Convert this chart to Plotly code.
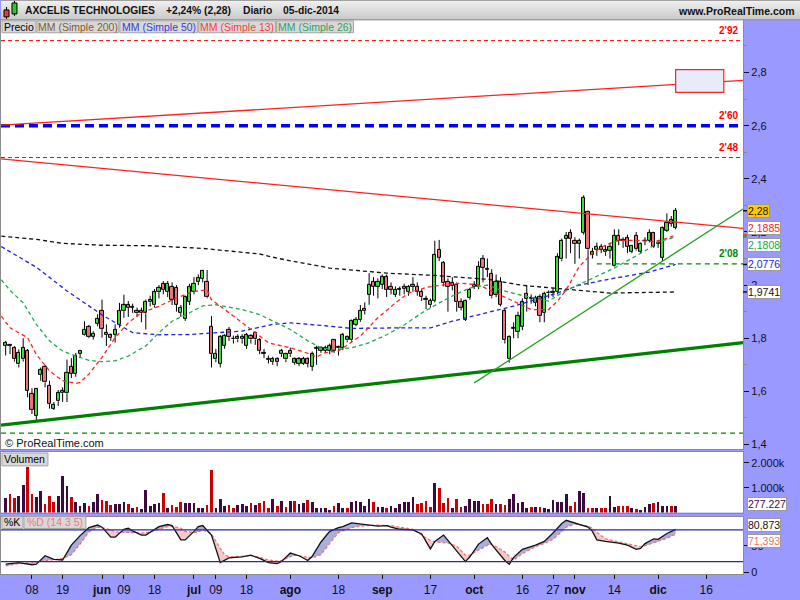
import numpy as np
import pandas as pd
import plotly.graph_objects as go

# ---------------------------------------------------------------- data
HOLIDAYS = ["2014-05-26", "2014-07-04", "2014-09-01", "2014-11-27", "2014-12-25"]

OPEN = [1.773, 1.773, 1.765, 1.702, 1.721, 1.752, 1.590, 1.509, 1.662, 1.692,
        1.621, 1.536, 1.563, 1.593, 1.593, 1.692, 1.667, 1.742, 1.812, 1.842,
        1.806, 1.854, 1.902, 1.812, 1.812, 1.812, 1.852, 1.902, 1.924, 1.914,
        1.902, 1.894, 1.894, 1.935, 1.924, 1.975, 2.004, 1.974, 1.995, 1.990,
        1.895, 1.874, 1.937, 1.974, 2.014, 2.024, 2.014, 1.842, 1.721, 1.705,
        1.771, 1.833, 1.797, 1.796, 1.796, 1.771, 1.808, 1.820, 1.792, 1.745,
        1.722, 1.711, 1.721, 1.740, 1.721, 1.752, 1.708, 1.705, 1.705, 1.721,
        1.692, 1.761, 1.754, 1.754, 1.754, 1.792, 1.762, 1.764, 1.792, 1.792,
        1.852, 1.870, 1.912, 1.964, 2.014, 1.995, 2.001, 2.032, 1.995, 1.964,
        1.983, 1.995, 1.974, 1.995, 1.995, 1.974, 1.946, 1.924, 1.941, 2.132,
        2.085, 2.014, 2.010, 2.001, 1.936, 1.870, 1.952, 1.994, 1.995, 2.097,
        2.062, 2.042, 1.964, 2.014, 1.902, 1.721, 1.836, 1.824, 1.842, 1.966,
        1.950, 1.933, 1.954, 1.895, 1.969, 1.970, 1.973, 2.097, 2.174, 2.198,
        2.168, 2.156, 2.197, 2.275, 2.113, 2.132, 2.145, 2.124, 2.130, 2.074,
        2.186, 2.170, 2.176, 2.126, 2.186, 2.126, 2.166, 2.168, 2.198, 2.155,
        2.103, 2.204, 2.244, 2.216]
HIGH = [1.790, 1.778, 1.770, 1.758, 1.800, 1.760, 1.612, 1.612, 1.690, 1.700,
        1.640, 1.560, 1.605, 1.615, 1.720, 1.725, 1.745, 1.755, 1.864, 1.850,
        1.826, 1.890, 1.945, 1.852, 1.818, 1.852, 1.933, 1.964, 1.940, 1.930,
        1.915, 1.915, 1.945, 1.960, 1.985, 2.000, 2.015, 2.015, 2.010, 2.000,
        1.925, 1.960, 2.005, 2.030, 2.040, 2.057, 2.057, 1.883, 1.760, 1.812,
        1.815, 1.842, 1.810, 1.815, 1.815, 1.820, 1.815, 1.825, 1.800, 1.760,
        1.735, 1.730, 1.728, 1.760, 1.745, 1.765, 1.728, 1.730, 1.730, 1.728,
        1.750, 1.772, 1.770, 1.772, 1.780, 1.796, 1.772, 1.820, 1.810, 1.870,
        1.880, 1.925, 1.935, 2.045, 2.030, 2.025, 2.040, 2.040, 2.010, 1.995,
        1.995, 2.005, 2.000, 2.030, 2.010, 1.985, 1.960, 1.950, 2.167, 2.170,
        2.090, 2.025, 2.030, 2.010, 1.950, 1.945, 1.990, 2.015, 2.090, 2.113,
        2.100, 2.060, 2.040, 2.030, 1.910, 1.810, 1.860, 1.900, 1.950, 2.000,
        1.965, 1.960, 1.965, 1.975, 1.980, 1.990, 2.120, 2.175, 2.200, 2.210,
        2.180, 2.175, 2.338, 2.280, 2.140, 2.160, 2.155, 2.150, 2.160, 2.210,
        2.210, 2.180, 2.190, 2.150, 2.200, 2.160, 2.180, 2.210, 2.200, 2.170,
        2.220, 2.270, 2.260, 2.290]
LOW = [1.735, 1.740, 1.712, 1.690, 1.712, 1.578, 1.515, 1.490, 1.640, 1.615,
       1.535, 1.530, 1.545, 1.560, 1.560, 1.650, 1.655, 1.728, 1.810, 1.800,
       1.795, 1.845, 1.802, 1.771, 1.790, 1.784, 1.840, 1.877, 1.880, 1.895,
       1.880, 1.860, 1.833, 1.920, 1.915, 1.950, 1.965, 1.955, 1.925, 1.900,
       1.880, 1.865, 1.925, 1.965, 2.000, 2.010, 1.950, 1.690, 1.710, 1.690,
       1.760, 1.790, 1.780, 1.785, 1.780, 1.760, 1.780, 1.775, 1.740, 1.725,
       1.705, 1.700, 1.695, 1.730, 1.710, 1.730, 1.700, 1.695, 1.700, 1.690,
       1.677, 1.700, 1.745, 1.745, 1.740, 1.745, 1.735, 1.755, 1.785, 1.785,
       1.845, 1.862, 1.890, 1.926, 1.960, 1.950, 1.985, 1.955, 1.965, 1.955,
       1.960, 1.965, 1.960, 1.975, 1.960, 1.940, 1.910, 1.915, 1.935, 2.090,
       1.995, 1.900, 1.980, 1.900, 1.905, 1.865, 1.945, 1.985, 1.985, 2.010,
       2.030, 1.950, 1.955, 1.920, 1.780, 1.708, 1.800, 1.800, 1.830, 1.900,
       1.930, 1.920, 1.860, 1.860, 1.950, 1.955, 1.965, 2.090, 2.100, 2.120,
       2.080, 2.100, 2.190, 2.000, 2.100, 2.110, 2.120, 2.110, 2.100, 2.070,
       2.150, 2.140, 2.120, 2.120, 2.130, 2.120, 2.150, 2.160, 2.140, 2.140,
       2.090, 2.200, 2.220, 2.210]
CLOSE = [1.783, 1.771, 1.721, 1.746, 1.765, 1.603, 1.530, 1.609, 1.680, 1.634,
         1.553, 1.550, 1.593, 1.603, 1.671, 1.667, 1.733, 1.752, 1.833, 1.804,
         1.818, 1.874, 1.836, 1.821, 1.802, 1.833, 1.902, 1.924, 1.914, 1.916,
         1.894, 1.902, 1.937, 1.945, 1.973, 1.990, 1.983, 2.004, 1.945, 1.927,
         1.914, 1.954, 1.995, 2.004, 2.026, 2.054, 1.954, 1.740, 1.742, 1.804,
         1.808, 1.804, 1.796, 1.804, 1.805, 1.812, 1.796, 1.796, 1.752, 1.742,
         1.720, 1.721, 1.712, 1.752, 1.740, 1.740, 1.721, 1.721, 1.722, 1.705,
         1.742, 1.762, 1.762, 1.763, 1.771, 1.752, 1.767, 1.812, 1.804, 1.864,
         1.870, 1.902, 1.902, 2.001, 1.995, 2.014, 2.032, 1.983, 1.983, 1.983,
         1.984, 1.985, 1.995, 2.001, 1.974, 1.954, 1.944, 1.941, 2.113, 2.103,
         2.007, 1.995, 1.998, 1.936, 1.914, 1.941, 1.983, 2.001, 2.070, 2.066,
         2.058, 1.958, 2.014, 1.926, 1.793, 1.804, 1.840, 1.883, 1.935, 1.949,
         1.948, 1.951, 1.883, 1.966, 1.970, 1.975, 2.105, 2.167, 2.186, 2.174,
         2.156, 2.168, 2.329, 2.135, 2.126, 2.145, 2.132, 2.131, 2.145, 2.186,
         2.168, 2.167, 2.145, 2.147, 2.135, 2.157, 2.165, 2.198, 2.145, 2.157,
         2.216, 2.236, 2.230, 2.280]
# volume in thousands of shares
VOLUME_K = [600, 750, 570, 680, 1130, 1840, 760, 610, 880, 330,
            680, 410, 680, 1480, 1080, 610, 440, 280, 400, 250,
            410, 750, 510, 480, 310, 330, 330, 440, 360, 170,
            240, 130, 920, 280, 350, 370, 800, 170, 310, 230,
            440, 400, 370, 370, 170, 200, 310, 1710, 200, 530,
            280, 310, 200, 310, 330, 270, 370, 310, 400, 470,
            200, 550, 250, 470, 210, 470, 480, 330, 370, 510,
            440, 200, 200, 200, 110, 280, 370, 200, 200, 440,
            480, 440, 280, 530, 440, 240, 240, 200, 280, 200,
            330, 410, 440, 640, 330, 370, 480, 240, 1200, 1000,
            370, 600, 200, 530, 240, 280, 530, 480, 480, 330,
            330, 560, 330, 350, 310, 530, 760, 370, 410, 200,
            240, 240, 210, 200, 130, 510, 440, 440, 760, 280,
            440, 880, 800, 200, 200, 170, 170, 170, 680, 240,
            280, 280, 280, 200, 130, 110, 240, 330, 370, 440,
            280, 280, 280, 277.227]

# moving averages (session number, value)
MA13_DAY = [-1, 1, 5, 7, 10, 13, 16, 17, 19, 22, 25, 28, 31, 35, 39, 43, 46, 47, 51, 54,
            57, 60, 62, 65, 68, 71, 73, 76, 81, 85, 89, 92, 96, 100, 104, 108, 112, 116, 120, 124,
            126, 128, 131, 134, 137, 140, 144, 148, 151, 153]
MA13_VAL = [1.883, 1.839, 1.802, 1.739, 1.677, 1.640, 1.630, 1.634, 1.665, 1.728,
            1.802, 1.858, 1.896, 1.920, 1.952, 1.976, 1.982, 1.945, 1.896, 1.858,
            1.821, 1.783, 1.775, 1.764, 1.749, 1.730, 1.746, 1.752, 1.808, 1.877,
            1.933, 1.970, 1.991, 2.001, 2.007, 2.001, 1.970, 1.939, 1.908, 1.908,
            1.939, 1.982, 2.070, 2.120, 2.151, 2.168, 2.168, 2.163, 2.176, 2.1885]
MA26_DAY = [-1, 1, 4, 7, 10, 13, 16, 19, 22, 25, 28, 32, 35, 38, 42, 45, 48, 50, 54, 58,
            61, 65, 69, 72, 75, 79, 83, 87, 91, 95, 99, 102, 106, 110, 113, 118, 124, 127, 130, 134,
            139, 143, 147, 149, 153]
MA26_VAL = [2.020, 1.980, 1.933, 1.852, 1.790, 1.752, 1.733, 1.717, 1.712, 1.715,
            1.733, 1.771, 1.821, 1.864, 1.896, 1.922, 1.926, 1.920, 1.908, 1.889,
            1.864, 1.833, 1.790, 1.764, 1.757, 1.764, 1.783, 1.813, 1.850, 1.895,
            1.933, 1.959, 1.989, 2.000, 1.982, 1.961, 1.940, 1.970, 1.995, 2.026,
            2.064, 2.101, 2.138, 2.163, 2.1808]
MA50_DAY = [-1, 7, 14, 22, 29, 35, 42, 54, 61, 65, 73, 79, 90, 97, 102, 110, 116, 126, 131, 139,
            147, 153]
MA50_VAL = [2.145, 2.067, 1.978, 1.888, 1.821, 1.813, 1.814, 1.827, 1.852, 1.858,
            1.847, 1.837, 1.839, 1.839, 1.864, 1.895, 1.921, 1.970, 2.000, 2.026,
            2.049, 2.0776]
MA200_DAY = [-1, 7, 13, 22, 33, 45, 58, 62, 74, 87, 97, 110, 118, 127, 138, 153]
MA200_VAL = [2.184, 2.172, 2.157, 2.150, 2.148, 2.138, 2.117, 2.101, 2.064, 2.045,
             2.037, 2.022, 1.999, 1.985, 1.970, 1.9741]

# stochastic oscillator %K / %D (14 3 5)
STOCH_DAY = [0, 3, 6, 7, 9, 11, 13, 15, 17, 19, 21, 22, 24, 25, 27, 28, 29, 31, 32, 34,
             35, 37, 38, 40, 41, 43, 44, 45, 47, 49, 50, 51, 54, 56, 58, 60, 62, 63, 65, 66,
             67, 69, 70, 72, 74, 76, 77, 79, 81, 83, 85, 87, 88, 90, 93, 95, 97, 98, 100, 101,
             103, 105, 106, 108, 110, 111, 114, 115, 116, 118, 121, 123, 125, 127, 128, 130, 132, 133, 134, 135,
             137, 140, 142, 144, 145, 146, 148, 149, 151, 152, 153]
STOCH_K = [15, 18, 14, 15, 31, 24, 23, 51, 69, 84, 89, 85, 66, 66, 81, 83, 78, 70, 70, 81,
           86, 90, 88, 61, 61, 77, 86, 88, 70, 18, 22, 27, 29, 32, 26, 18, 16, 20, 36, 34,
           31, 22, 30, 57, 77, 84, 86, 93, 91, 89, 87, 88, 85, 81, 80, 72, 44, 58, 70, 60,
           41, 20, 29, 53, 65, 52, 22, 15, 28, 43, 51, 58, 74, 92, 98, 93, 88, 85, 77, 61,
           58, 55, 51, 43, 45, 54, 63, 62, 73, 77, 80.873]
STOCH_D = [12, 16, 18, 19, 22, 24, 26, 33, 53, 76, 85, 84, 80, 76, 75, 75, 74, 74, 74, 78,
           81, 86, 87, 83, 77, 75, 76, 80, 72, 45, 33, 29, 30, 31, 28, 23, 21, 22, 29, 32,
           31, 28, 27, 33, 55, 75, 78, 84, 87, 88, 89, 88, 88, 85, 81, 70, 60, 57, 56, 55,
           49, 32, 32, 42, 51, 53, 38, 30, 23, 35, 48, 54, 62, 77, 85, 91, 89, 87, 83, 75,
           63, 57, 53, 49, 48, 50, 55, 58, 64, 68, 71.393]

# horizontal price levels
LEVEL_PRICE = [2.92, 2.60, 2.48, 2.08, 1.443]
LEVEL_FROM = [None, None, None, "2014-11-10", None]

# trend lines: two anchor points each
TREND_START_DATE = ["2014-04-30", "2014-04-30", "2014-04-30", "2014-10-01"]
TREND_START_PRICE = [2.603, 2.473, 1.475, 1.632]
TREND_END_DATE = ["2014-12-05", "2014-12-05", "2014-12-05", "2014-12-05"]
TREND_END_PRICE = [2.755, 2.237, 1.755, 2.122]
TREND_EXTEND_LEFT = [True, True, True, False]

# target box
BOX_DATE = ["2014-12-05", "2014-12-22"]
BOX_PRICE = [2.725, 2.811]

TICK_DATE = ["2014-05-08", "2014-05-19", "2014-06-02", "2014-06-09", "2014-06-18",
             "2014-07-01", "2014-07-09", "2014-07-18", "2014-08-01", "2014-08-18",
             "2014-09-02", "2014-09-17", "2014-10-01", "2014-10-16", "2014-10-27",
             "2014-11-03", "2014-11-14", "2014-12-01", "2014-12-16"]
TICK_TEXT = ["08", "19", "jun", "09", "18", "jul", "09", "18", "ago", "18",
             "sep", "17", "oct", "16", "27", "nov", "14", "dic", "16"]
MESES = ["ene", "feb", "mar", "abr", "may", "jun", "jul", "ago", "sep", "oct", "nov", "dic"]

# ---------------------------------------------------------------- geometry helpers
W, H = 800, 600
FONT = "Liberation Sans, Arial, sans-serif"


def fx(p):
    return p / W


def fy(p):
    return 1 - p / H


PLOT_RIGHT = 743
sessions = [d for d in pd.bdate_range("2014-04-30", "2014-12-31")
            if d.strftime("%Y-%m-%d") not in HOLIDAYS]
day_of = {d.strftime("%Y-%m-%d"): i for i, d in enumerate(sessions)}

XMIN, XMAX = -1.07, 168.4
PRICE_RANGE = [1.3832, 2.9981]
VOL_RANGE = [0, 2440]
STOCH_RANGE = [-3.75, 105.05]


def dec(v, nd):
    return f"{v:.{nd}f}".replace(".", ",")


def level_label(v):
    return f"{int(v)}'{int(round((v % 1) * 100)):02d}"


GREEN_BODY = "#41d841"
RED_BODY = "#ea7474"

fig = go.Figure()

# ---------------------------------------------------------------- price panel
o, h, l, c = map(np.array, (OPEN, HIGH, LOW, CLOSE))
days = np.arange(len(c))
b_lo, b_hi = np.minimum(o, c), np.maximum(o, c)
wx, wy = [], []
for i in days:
    wx += [i, i, None, i, i, None]
    wy += [h[i], b_hi[i], None, b_lo[i], l[i], None]
fig.add_trace(go.Scatter(x=wx, y=wy, mode="lines", line=dict(color="black", width=1),
                         hoverinfo="skip", xaxis="x", yaxis="y"))
fig.add_trace(go.Bar(x=days, y=np.maximum(b_hi - b_lo, 0.0025), base=b_lo, width=0.74,
                     marker=dict(color=np.where(c >= o, GREEN_BODY, RED_BODY).tolist(),
                                 line=dict(color="black", width=1)),
                     hoverinfo="skip", xaxis="x", yaxis="y"))

for dd, vv, col in [(MA200_DAY, MA200_VAL, "#111111"), (MA50_DAY, MA50_VAL, "#2222dd"),
                    (MA26_DAY, MA26_VAL, "#22aa55"), (MA13_DAY, MA13_VAL, "#ff2222")]:
    fig.add_trace(go.Scatter(x=dd, y=vv, mode="lines",
                             line=dict(color=col, width=1.3, dash="4px,3px"),
                             hoverinfo="skip", xaxis="x", yaxis="y"))

# ---------------------------------------------------------------- volume panel
prev = np.concatenate([[o[0]], c[:-1]])
vol_col = np.where(c < prev, "#cc0000", "#3c0a3c").tolist()
fig.add_trace(go.Bar(x=days, y=VOLUME_K, width=0.62, marker=dict(color=vol_col, line=dict(width=0)),
                     hoverinfo="skip", xaxis="x2", yaxis="y2"))

# ---------------------------------------------------------------- stochastic panel
sx, sk, sd = STOCH_DAY, STOCH_K, STOCH_D
pos_x, pos_y, neg_x, neg_y = [], [], [], []
for j in range(len(sx) - 1):
    x0, x1 = sx[j], sx[j + 1]
    d0, d1 = sk[j] - sd[j], sk[j + 1] - sd[j + 1]
    if d0 * d1 < 0:
        t = d0 / (d0 - d1)
        xm = x0 + t * (x1 - x0)
        ym = sk[j] + t * (sk[j + 1] - sk[j])
        parts = [(x0, xm, sk[j], ym, sd[j], ym, d0), (xm, x1, ym, sk[j + 1], ym, sd[j + 1], d1)]
    else:
        parts = [(x0, x1, sk[j], sk[j + 1], sd[j], sd[j + 1], d0 + d1)]
    for xa, xb, ka, kb, da, db, s in parts:
        xs = [xa, xb, xb, xa, xa, None]
        ys = [ka, kb, db, da, ka, None]
        if s >= 0:
            pos_x += xs
            pos_y += ys
        else:
            neg_x += xs
            neg_y += ys
fig.add_trace(go.Scatter(x=pos_x, y=pos_y, mode="lines", fill="toself", fillcolor="#aaaedf",
                         line=dict(width=0, color="rgba(0,0,0,0)"), hoverinfo="skip",
                         xaxis="x3", yaxis="y3"))
fig.add_trace(go.Scatter(x=neg_x, y=neg_y, mode="lines", fill="toself", fillcolor="#f6c8c8",
                         line=dict(width=0, color="rgba(0,0,0,0)"), hoverinfo="skip",
                         xaxis="x3", yaxis="y3"))
fig.add_trace(go.Scatter(x=sx, y=sd, mode="lines", line=dict(color="#f07070", width=1.2, dash="3px,2px"),
                         hoverinfo="skip", xaxis="x3", yaxis="y3"))
fig.add_trace(go.Scatter(x=sx, y=sk, mode="lines", line=dict(color="#111111", width=1.3),
                         hoverinfo="skip", xaxis="x3", yaxis="y3"))

# ---------------------------------------------------------------- shapes
shapes = []

# header bar with a soft vertical gradient
for k in range(10):
    g = int(240 - k * 4.2)
    shapes.append(dict(type="rect", xref="paper", yref="paper", x0=0, x1=1,
                       y0=fy(2 * k + 2), y1=fy(2 * k), fillcolor=f"rgb({g},{g},{g})",
                       line=dict(width=0), layer="above"))
shapes.append(dict(type="line", xref="paper", yref="paper", x0=0, x1=1, y0=fy(0.5), y1=fy(0.5),
                   line=dict(color="#a0a0a0", width=1)))
shapes.append(dict(type="line", xref="paper", yref="paper", x0=0, x1=1, y0=fy(20), y1=fy(20),
                   line=dict(color="#8c8c8c", width=1)))
# little candle logo
shapes += [
    dict(type="line", xref="paper", yref="paper", x0=fx(5.5), x1=fx(5.5), y0=fy(19), y1=fy(7),
         line=dict(color="black", width=1)),
    dict(type="rect", xref="paper", yref="paper", x0=fx(3), x1=fx(8), y0=fy(17), y1=fy(10),
         fillcolor="#e04040", line=dict(color="black", width=1)),
    dict(type="line", xref="paper", yref="paper", x0=fx(13.5), x1=fx(13.5), y0=fy(16), y1=fy(1),
         line=dict(color="black", width=1)),
    dict(type="rect", xref="paper", yref="paper", x0=fx(11), x1=fx(16), y0=fy(14), y1=fy(3),
         fillcolor="#30c830", line=dict(color="black", width=1)),
]

# horizontal levels
level_style = [dict(color="#ff0000", width=1, dash="4px,3px"),
               dict(color="#0000ff", width=3.5, dash="9px,5px"),
               dict(color="#ff0000", width=1, dash="4px,3px"),
               dict(color="#008800", width=1.2, dash="5px,4px"),
               dict(color="#008800", width=1.2, dash="5px,4px")]
for v, start, st in zip(LEVEL_PRICE, LEVEL_FROM, level_style):
    x0 = XMIN if start is None else day_of[start]
    shapes.append(dict(type="line", xref="x", yref="y", x0=x0, x1=XMAX, y0=v, y1=v, line=st))

# trend lines
trend_style = [dict(color="#ff2020", width=1.3), dict(color="#ff2020", width=1.3),
               dict(color="#008000", width=3.2), dict(color="#22a022", width=1.3)]
for sd_, sp_, ed_, ep_, ext, st in zip(TREND_START_DATE, TREND_START_PRICE, TREND_END_DATE,
                                       TREND_END_PRICE, TREND_EXTEND_LEFT, trend_style):
    d0, d1 = day_of[sd_], day_of[ed_]
    slope = (ep_ - sp_) / (d1 - d0)
    xa = XMIN if ext else d0
    shapes.append(dict(type="line", xref="x", yref="y", x0=xa, x1=XMAX,
                       y0=sp_ + slope * (xa - d0), y1=sp_ + slope * (XMAX - d0), line=st))

shapes.append(dict(type="rect", xref="x", yref="y", x0=day_of[BOX_DATE[0]], x1=day_of[BOX_DATE[1]],
                   y0=BOX_PRICE[0], y1=BOX_PRICE[1], fillcolor="#e8ecfa",
                   line=dict(color="#ff2020", width=1.2)))

# stochastic guide levels
for v in (80, 20):
    shapes.append(dict(type="line", xref="x3", yref="y3", x0=XMIN, x1=XMAX, y0=v, y1=v,
                       line=dict(color="#2828a8", width=1.2)))

# indicator chips
chips = [("Precio", 1, 35, 21, 33, "#000000"),
         ("MM (Simple 200)", 36, 118, 21, 33, "#86582c"),
         ("MM (Simple 50)", 119, 197, 21, 33, "#3a3ad8"),
         ("MM (Simple 13)", 198, 275, 21, 33, "#ff3838"),
         ("MM (Simple 26)", 276, 353, 21, 33, "#2fa060"),
         ("Volumen", 1, 47, 456, 469, "#000000"),
         ("%K", 1, 22, 520, 532, "#000000"),
         ("%D (14 3 5)", 23, 85, 520, 532, "#f07878")]
annotations = []
for txt, x0, x1, y0, y1, col in chips:
    shapes.append(dict(type="rect", xref="paper", yref="paper", x0=fx(x0), x1=fx(x1),
                       y0=fy(y1), y1=fy(y0), fillcolor="#d8d8d8",
                       line=dict(color="#a4a4a4", width=1), layer="above"))
    annotations.append(dict(text=txt, xref="paper", yref="paper", x=fx((x0 + x1) / 2),
                            y=fy((y0 + y1) / 2), showarrow=False, xanchor="center", yanchor="middle",
                            font=dict(family=FONT, size=10.5, color=col)))

# value markers on the right scale
ma_last = [(MA13_VAL[-1], "#ff2020"), (MA26_VAL[-1], "#22a040"),
           (MA50_VAL[-1], "#111111"), (MA200_VAL[-1], "#111111"), (CLOSE[-1], "#111111")]
for v, col in ma_last:
    shapes.append(dict(type="line", xref="paper", yref="y", x0=fx(PLOT_RIGHT), x1=fx(PLOT_RIGHT + 4),
                       y0=v, y1=v, line=dict(color=col, width=1.5)))

# ---------------------------------------------------------------- annotations
last_day = sessions[len(CLOSE) - 1]
pct = (CLOSE[-1] / CLOSE[-2] - 1) * 100
header = [("<b>AXCELIS TECHNOLOGIES</b>", 22),
          (f"<b>{'+' if pct >= 0 else ''}{dec(pct, 2)}% ({dec(CLOSE[-1], 2)})</b>", 163),
          ("<b>Diario</b>", 240),
          (f"<b>{last_day.day:02d}-{MESES[last_day.month - 1]}-{last_day.year}</b>", 280)]
for txt, x in header:
    annotations.append(dict(text=txt, xref="paper", yref="paper", x=fx(x), y=fy(11), showarrow=False,
                            xanchor="left", yanchor="middle", font=dict(family=FONT, size=10.3, color="#111111")))
annotations.append(dict(text="<b>www.ProRealTime.com</b>", xref="paper", yref="paper", x=fx(797), y=fy(11),
                        showarrow=False, xanchor="right", yanchor="middle",
                        font=dict(family=FONT, size=10.5, color="#111111")))
annotations.append(dict(text="© ProRealTime.com", xref="paper", yref="paper", x=fx(2), y=fy(446),
                        showarrow=False, xanchor="left", yanchor="middle",
                        font=dict(family=FONT, size=11, color="#111111")))

level_col = ["#ff0000", "#ff0000", "#ff0000", "#008800", None]
for v, col in zip(LEVEL_PRICE, level_col):
    if col is None:
        continue
    annotations.append(dict(text=f"<b>{level_label(v)}</b>", xref="paper", yref="y", x=fx(741), y=v,
                            yshift=10, showarrow=False, xanchor="right", yanchor="middle",
                            font=dict(family=FONT, size=10, color=col)))


def value_box(text, yref, y, color, bg="white", yshift=0):
    annotations.append(dict(text=text, xref="paper", yref=yref, x=fx(747), y=y, yshift=yshift,
                            showarrow=False, xanchor="left", yanchor="middle", bgcolor=bg,
                            bordercolor="#9a9a9a", borderwidth=1, borderpad=0,
                            font=dict(family=FONT, size=10.5, color=color)))


value_box(dec(CLOSE[-1], 2), "y", CLOSE[-1], "#111111", bg="#ffcc00")
value_box(dec(MA13_VAL[-1], 4), "y", MA13_VAL[-1], "#ff2020", yshift=7)
value_box(dec(MA26_VAL[-1], 4), "y", MA26_VAL[-1], "#22a040", yshift=-8)
value_box(dec(MA50_VAL[-1], 4), "y", MA50_VAL[-1], "#2222dd")
value_box(dec(MA200_VAL[-1], 4), "y", MA200_VAL[-1], "#111111")
value_box(f"{int(round(VOLUME_K[-1] * 1000)):,}".replace(",", "."), "y2", VOLUME_K[-1], "#3c0a3c", yshift=2)
value_box(dec(STOCH_K[-1], 3), "y3", STOCH_K[-1], "#111111", yshift=4)
value_box(dec(STOCH_D[-1], 3), "y3", STOCH_D[-1], "#f07070", yshift=-7)

# ---------------------------------------------------------------- layout
tick_vals = [day_of[d] for d in TICK_DATE]
tick_txt = [f"<b>{t}</b>" if t.isalpha() else t for t in TICK_TEXT]
xdom = [0, fx(PLOT_RIGHT)]
axis_line = dict(showline=True, mirror=True, linecolor="#8c8c8c", linewidth=1,
                 showgrid=False, zeroline=False)
tickfont = dict(family=FONT, size=11, color="#111111")

fig.update_layout(
    width=W, height=H, margin=dict(l=0, r=0, t=0, b=0),
    paper_bgcolor="#9999ff", plot_bgcolor="white",
    showlegend=False, hovermode=False, separators=",.", bargap=0,
    xaxis=dict(domain=xdom, range=[XMIN, XMAX], anchor="y", showticklabels=False, ticks="", **axis_line),
    xaxis2=dict(domain=xdom, range=[XMIN, XMAX], anchor="y2", matches="x", showticklabels=False,
                ticks="", **axis_line),
    xaxis3=dict(domain=xdom, range=[XMIN, XMAX], anchor="y3", matches="x", tickmode="array",
                tickvals=tick_vals, ticktext=tick_txt, ticks="outside", ticklen=4, tickcolor="#111111",
                tickfont=dict(family=FONT, size=12, color="#111111"), **axis_line),
    yaxis=dict(domain=[fy(452), fy(20)], range=PRICE_RANGE, side="right", anchor="x",
               tickmode="linear", tick0=0, dtick=0.2, ticks="outside", ticklen=5, tickcolor="#111111",
               minor=dict(dtick=0.1, ticks="outside", ticklen=3, tickcolor="#888888"),
               tickfont=tickfont, **axis_line),
    yaxis2=dict(domain=[fy(516), fy(455)], range=VOL_RANGE, side="right", anchor="x2",
                tickmode="array", tickvals=[1000, 2000], ticktext=["1.000k", "2.000k"],
                ticks="outside", ticklen=5, tickcolor="#111111", tickfont=tickfont, **axis_line),
    yaxis3=dict(domain=[fy(578), fy(520)], range=STOCH_RANGE, side="right", anchor="x3",
                tickmode="array", tickvals=[0, 50], ticktext=["0", "50"],
                ticks="outside", ticklen=5, tickcolor="#111111", tickfont=tickfont, **axis_line),
    shapes=shapes, annotations=annotations,
)

fig.write_html("out.html")
